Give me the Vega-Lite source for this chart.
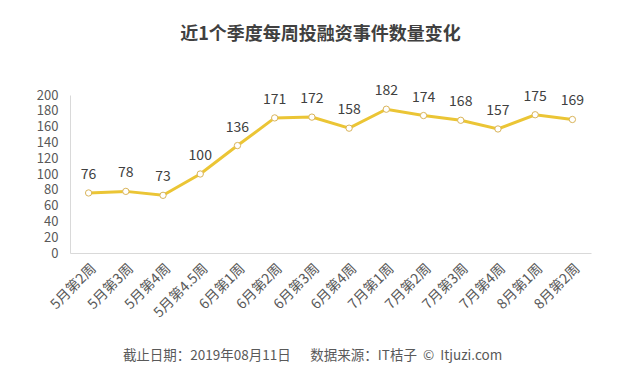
{
  "$schema": "https://vega.github.io/schema/vega-lite/v6.json",
  "width": 521,
  "height": 158,
  "autosize": {"type": "none"},
  "padding": {"left": 70, "top": 95, "right": 37, "bottom": 130},
  "background": "#ffffff",
  "config": {
    "view": {"stroke": null},
    "font": "Noto Sans CJK SC"
  },
  "title": {
    "text": "近1个季度每周投融资事件数量变化",
    "fontSize": 18,
    "fontWeight": "bold",
    "color": "#404040",
    "anchor": "middle",
    "dx": -10,
    "offset": 40
  },
  "data": {
    "values": [
      {"week": "5月第2周", "count": 76},
      {"week": "5月第3周", "count": 78},
      {"week": "5月第4周", "count": 73},
      {"week": "5月第4.5周", "count": 100},
      {"week": "6月第1周", "count": 136},
      {"week": "6月第2周", "count": 171},
      {"week": "6月第3周", "count": 172},
      {"week": "6月第4周", "count": 158},
      {"week": "7月第1周", "count": 182},
      {"week": "7月第2周", "count": 174},
      {"week": "7月第3周", "count": 168},
      {"week": "7月第4周", "count": 157},
      {"week": "8月第1周", "count": 175},
      {"week": "8月第2周", "count": 169}
    ]
  },
  "encoding": {
    "x": {
      "field": "week",
      "type": "nominal",
      "sort": null,
      "scale": {"paddingInner": 0, "paddingOuter": 0},
      "axis": {
        "title": "截止日期：2019年08月11日\u00a0\u00a0\u3000数据来源：IT桔子\u00a0\u00a0©\u00a0\u00a0Itjuzi.com",
        "titleFontSize": 13.5,
        "titleFontWeight": "normal",
        "titleColor": "#595959",
        "titleX": 242,
        "titleY": 102,
        "titleBaseline": "middle",
        "labelAngle": -45,
        "labelFontSize": 14,
        "labelColor": "#595959",
        "labelPadding": 8,
        "ticks": false,
        "domainColor": "#d9d9d9",
        "domainWidth": 1
      }
    },
    "y": {
      "field": "count",
      "type": "quantitative",
      "scale": {"domain": [0, 200]},
      "axis": {
        "title": null,
        "values": [0, 20, 40, 60, 80, 100, 120, 140, 160, 180, 200],
        "labelFontSize": 13,
        "labelColor": "#595959",
        "labelPadding": 12,
        "ticks": false,
        "grid": false,
        "domainColor": "#d9d9d9",
        "domainWidth": 1
      }
    }
  },
  "layer": [
    {
      "mark": {"type": "line", "color": "#EBC535", "strokeWidth": 3}
    },
    {
      "mark": {"type": "point", "filled": true, "fill": "#ffffff", "stroke": "#D9B45A", "strokeWidth": 1, "size": 40, "opacity": 1}
    },
    {
      "mark": {"type": "text", "dy": -18, "fontSize": 14, "color": "#404040"},
      "encoding": {"text": {"field": "count", "type": "quantitative"}}
    }
  ]
}
